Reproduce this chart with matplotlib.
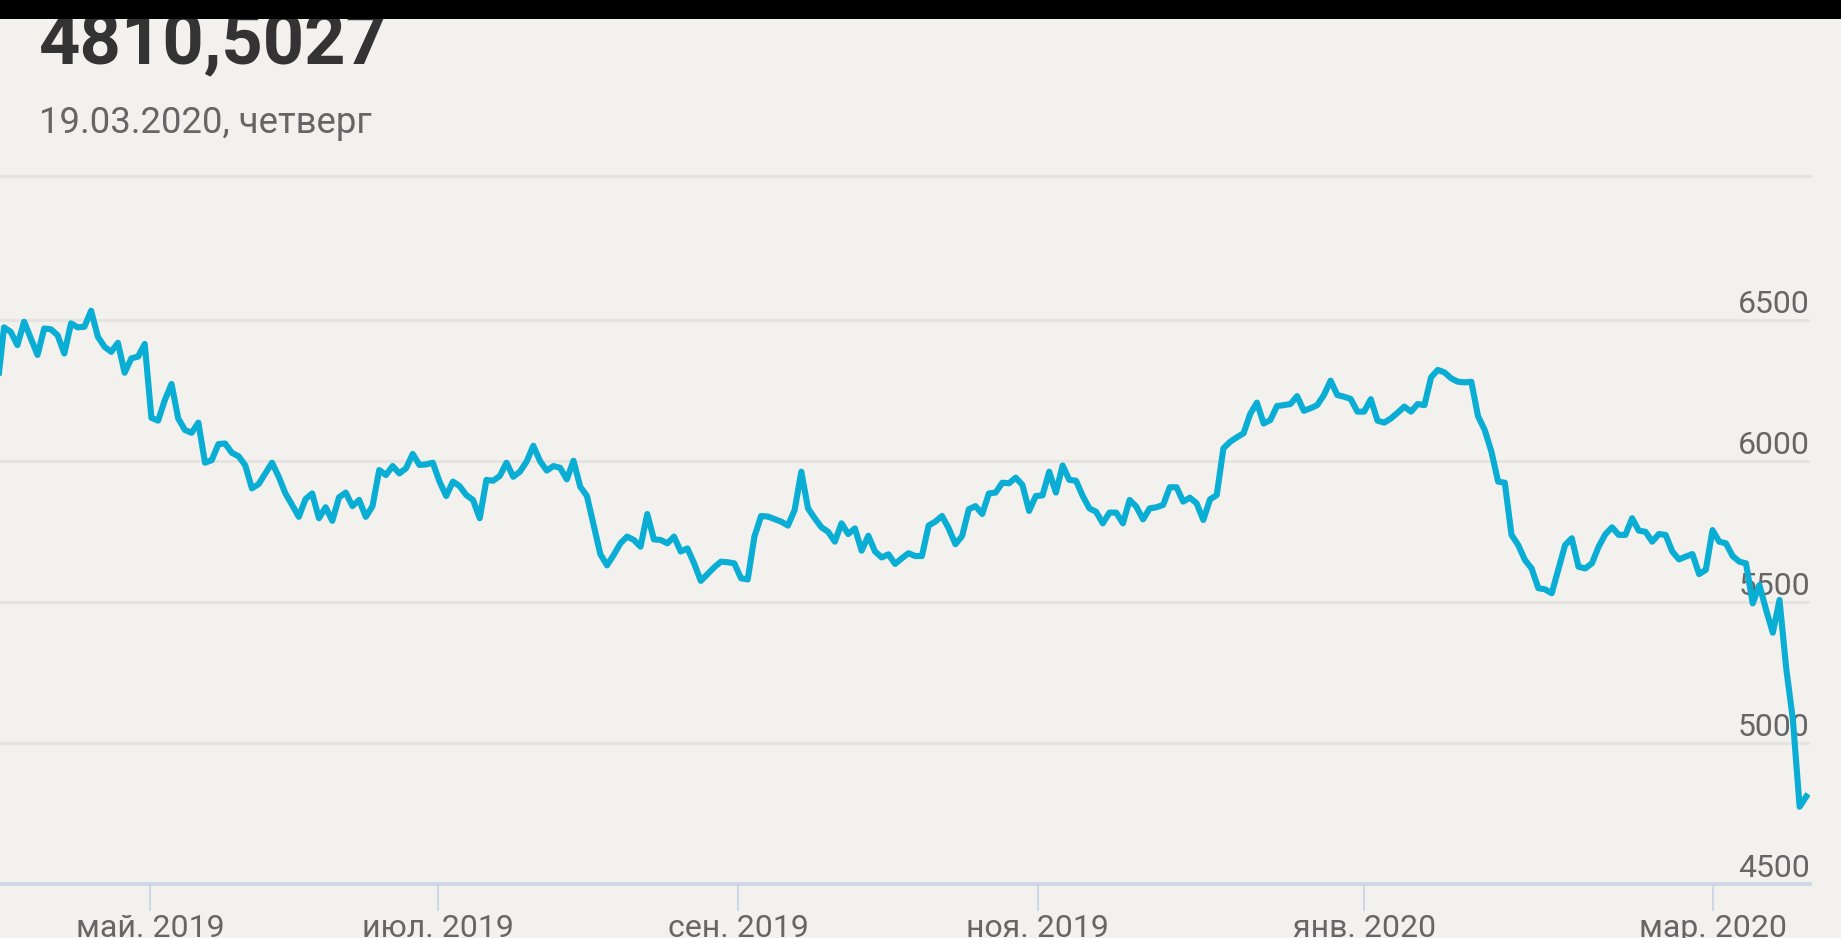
import matplotlib
matplotlib.use("Agg")
import matplotlib.pyplot as plt
import matplotlib.transforms as mtransforms
from matplotlib.patches import Rectangle
from matplotlib.lines import Line2D

plt.rcParams['font.family'] = ['Roboto', 'DejaVu Sans']

# значения индекса (по одному на торговый день)
values = [
    6260, 6474, 6458, 6411, 6494, 6435, 6376, 6470, 6467, 6446,
    6381, 6488, 6474, 6476, 6533, 6441, 6405, 6387, 6419, 6313,
    6364, 6370, 6415, 6153, 6143, 6216, 6273, 6151, 6110, 6100,
    6136, 5994, 6003, 6060, 6062, 6029, 6017, 5985, 5903, 5918,
    5956, 5994, 5944, 5885, 5844, 5802, 5865, 5885, 5797, 5836,
    5788, 5871, 5888, 5840, 5862, 5802, 5840, 5968, 5950, 5982,
    5956, 5974, 6025, 5986, 5988, 5994, 5927, 5876, 5927, 5911,
    5879, 5862, 5797, 5933, 5930, 5947, 5994, 5944, 5962, 5998,
    6054, 6000, 5966, 5982, 5976, 5935, 6001, 5909, 5876, 5773,
    5670, 5630, 5667, 5708, 5732, 5720, 5696, 5812, 5722, 5720,
    5708, 5732, 5679, 5690, 5637, 5575, 5599, 5623, 5643, 5641,
    5637, 5584, 5580, 5732, 5805, 5803, 5794, 5785, 5771, 5826,
    5962, 5832, 5797, 5765, 5749, 5714, 5779, 5741, 5761, 5682,
    5735, 5679, 5658, 5669, 5635, 5655, 5673, 5663, 5663, 5771,
    5785, 5805, 5761, 5705, 5734, 5829, 5840, 5812, 5885, 5888,
    5923, 5921, 5941, 5915, 5823, 5876, 5878, 5962, 5888, 5984,
    5933, 5930, 5876, 5832, 5820, 5779, 5817, 5817, 5779, 5862,
    5838, 5793, 5832, 5836, 5844, 5907, 5907, 5856, 5870, 5850,
    5791, 5864, 5879, 6045, 6068, 6084, 6098, 6167, 6207, 6133,
    6145, 6195, 6198, 6202, 6230, 6178, 6187, 6198, 6234, 6285,
    6234, 6228, 6220, 6175, 6175, 6219, 6143, 6136, 6151, 6171,
    6193, 6175, 6202, 6198, 6297, 6323, 6314, 6293, 6281, 6279,
    6281, 6159, 6110, 6033, 5927, 5923, 5738, 5702, 5649, 5619,
    5549, 5545, 5531, 5616, 5702, 5726, 5625, 5619, 5637, 5696,
    5740, 5765, 5738, 5738, 5797, 5753, 5749, 5714, 5741, 5738,
    5679, 5651, 5661, 5670, 5599, 5614, 5755, 5714, 5708, 5663,
    5643, 5637, 5495, 5560, 5472, 5391, 5507, 5265, 5082, 4774,
    4810.5027,
]

# подписи месяцев и их место (номер точки)
month_labels = ['май. 2019', 'июл. 2019', 'сен. 2019', 'ноя. 2019', 'янв. 2020', 'мар. 2020']
month_pos = [22.8, 65.8, 110.6, 155.3, 204.0, 256.1]

y_ticks = [4500, 5000, 5500, 6000, 6500]
grid_levels = [5000, 5500, 6000, 6500]

last_value = '4810,5027'
date_text = '19.03.2020, четверг'

bg = '#f2f1ee'
line_color = '#0aadd3'
text_gray = '#666666'
axis_color = '#cdd7e6'
grid_color = '#e4e3e0'

W, H = 1841, 938
fig = plt.figure(figsize=(W / 100, H / 100), dpi=100, facecolor=bg)
ax = fig.add_axes([0, 1 - 884 / H, 1810 / W, (884 - 179) / H])
ax.set_facecolor(bg)
ax.patch.set_alpha(0)

x = list(range(len(values)))
ax.plot(x, values, color=line_color, linewidth=4.4, solid_joinstyle='round', zorder=5)

for g in grid_levels:
    ax.axhline(g, color=grid_color, linewidth=2, zorder=1)

ax.set_xlim(0.4, 270.55)
ax.set_ylim(4500, 7000)

for s in ['top', 'right', 'left']:
    ax.spines[s].set_visible(False)
ax.spines['bottom'].set_color(axis_color)
ax.spines['bottom'].set_linewidth(2.8)
ax.spines['bottom'].set_zorder(6)

ax.set_yticks([])
ax.set_xticks(month_pos, month_labels)
ax.tick_params(axis='x', length=19.4, width=1.4, color=axis_color,
               labelsize=23, labelcolor=text_gray, pad=2)

# подписи оси Y справа, над линиями сетки
off = mtransforms.ScaledTranslation(0, 5 / 72, fig.dpi_scale_trans)
trans = mtransforms.blended_transform_factory(ax.transAxes, ax.transData) + off
for v in y_ticks:
    ax.text(1.0, v, str(v), transform=trans, ha='right', va='baseline',
            fontsize=23, color=text_gray, zorder=3)

# верхняя разделительная линия
fig.lines.append(Line2D([0, 1810 / W], [1 - 176 / H, 1 - 176 / H], transform=fig.transFigure,
                        color=grid_color, linewidth=2))

fig.text(38 / W, 1 - 64 / H, last_value, fontsize=52, fontweight='bold',
         color='#333333', ha='left', va='baseline')
fig.text(39 / W, 1 - 133 / H, date_text, fontsize=26.3, color=text_gray,
         ha='left', va='baseline')

fig.patches.append(Rectangle((0, 1 - 19 / H), 1, 19 / H, transform=fig.transFigure,
                             facecolor='black', edgecolor='none', zorder=10))

fig.savefig('out.png', dpi=100, facecolor=bg)
